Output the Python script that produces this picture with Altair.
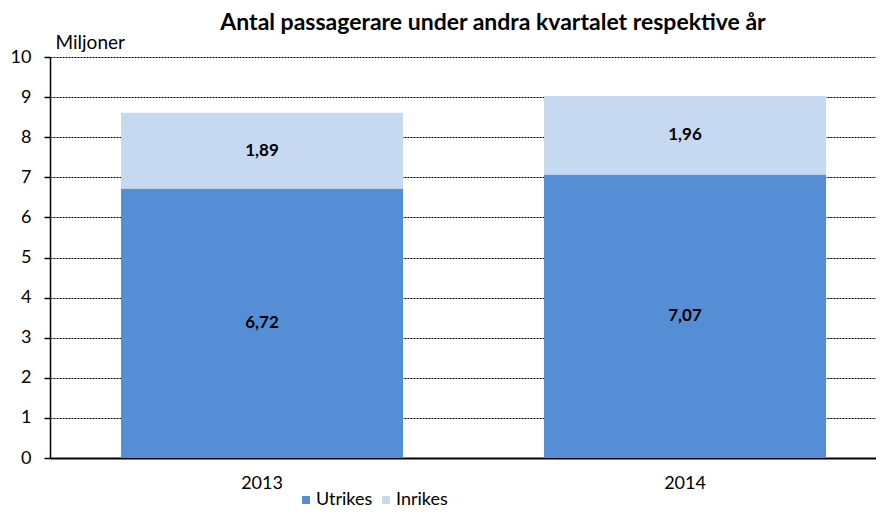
import altair as alt
import pandas as pd

years = ["2013", "2014"]
utrikes = [6.72, 7.07]
inrikes = [1.89, 1.96]
series = ["Utrikes", "Inrikes"]
colors = ["#558ED5", "#C6D9F1"]

rows = []
for i, yr in enumerate(years):
    base = 0.0
    for s, vals in zip(series, [utrikes, inrikes]):
        v = vals[i]
        rows.append({
            "year": yr, "series": s, "value": v,
            "base": base, "top": base + v, "mid": base + v / 2,
            "label": f"{v:.2f}".replace(".", ","),
        })
        base += v
df = pd.DataFrame(rows)

FONT = "Lato"

x = alt.X("year:N", title=None,
          scale=alt.Scale(paddingInner=0.3333, paddingOuter=0.143, align=0.587),
          axis=alt.Axis(labelAngle=0, labelFontSize=18, labelColor="black", labelPadding=16,
                        ticks=False, domainColor="black", domainWidth=2, labelFont=FONT))

bars = alt.Chart(df).mark_bar().encode(
    x=x,
    y=alt.Y("base:Q", title="Miljoner",
            scale=alt.Scale(domain=[0, 10]),
            axis=alt.Axis(values=list(range(0, 11)), grid=True, gridColor="black",
                          gridDash=[2, 1], gridWidth=1, domainColor="black", domainWidth=1.5,
                          tickColor="black", tickSize=6, tickWidth=1.5, labelFontSize=18,
                          labelColor="black", labelPadding=13, labelFont=FONT,
                          titleAngle=0, titleAlign="left", titleBaseline="alphabetic",
                          titleX=5, titleY=-9, titleFontSize=19, titleFontWeight="normal",
                          titleColor="black", titleFont=FONT)),
    y2="top:Q",
    color=alt.Color("series:N", scale=alt.Scale(domain=series, range=colors),
                    legend=alt.Legend(title=None, orient="none", direction="horizontal",
                                      legendX=247, legendY=434, padding=0, symbolType="square",
                                      symbolSize=64, symbolStrokeWidth=0, labelFontSize=18,
                                      labelOffset=1, labelFont=FONT, labelColor="black",
                                      columnPadding=4, symbolOpacity=1)),
)

text = alt.Chart(df).mark_text(fontSize=17, fontWeight="bold", font=FONT, color="black").encode(
    x=alt.X("year:N"),
    y=alt.Y("mid:Q"),
    text="label:N",
)

chart = alt.layer(bars, text).properties(
    width=826, height=401,
    autosize=alt.AutoSizeParams(type="none"),
    padding={"left": 42, "top": 49, "right": 0, "bottom": 52},
    title=alt.TitleParams("Antal passagerare under andra kvartalet respektive år",
                          fontSize=23, fontWeight="bold", font=FONT, color="black",
                          frame="group", anchor="middle", dx=30, dy=6),
).configure_view(stroke=None)

chart.save("out.html", embed_options={"renderer": "svg", "actions": False})
